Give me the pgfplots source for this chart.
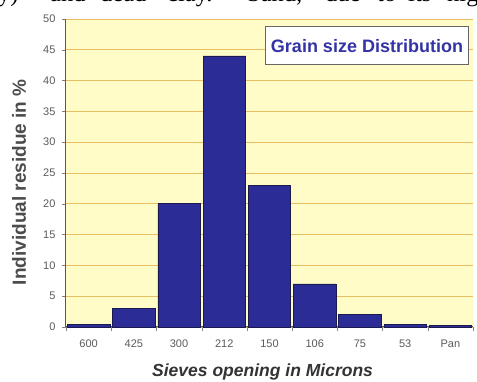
\documentclass[border=0pt]{standalone}
\usepackage{pgfplots}
\pgfplotsset{compat=1.18}
\usepackage{fontspec}
\setmainfont{Liberation Serif}
\newfontfamily\arialfont{Liberation Sans}

\definecolor{barblue}{HTML}{2C2C96}
\definecolor{baredge}{HTML}{1A1A50}
\definecolor{plotbg}{HTML}{FFFCC8}
\definecolor{gridtan}{HTML}{E8BE62}
\definecolor{ticktext}{HTML}{5A5A5A}
\definecolor{titleblue}{HTML}{3434A6}

% sieve analysis data: percentage retained on each sieve
\pgfplotstableread{
idx value
0 0.4
1 3
2 20
3 44
4 23
5 7
6 2
7 0.4
8 0.2
}\sievedata

\begin{document}
\begin{tikzpicture}[x=1pt,y=1pt]
\useasboundingbox (0,0) rectangle (477,382);
\clip (0,0) rectangle (477,382);

% running text of the surrounding page
\begin{scope}[every node/.style={anchor=base west,inner sep=0pt,font=\fontsize{24.5}{26}\selectfont}]
\node at (-2,380) {y)};
\node at (50,380) {and};
\node at (100,380) {dead};
\node at (167,380) {clay.};
\node at (247,380) {Sand,};
\node at (325,380) {due};
\node at (377,380) {to};
\node at (408,380) {its};
\node at (447,380) {hig};
\end{scope}

\begin{axis}[
  at={(66pt,55pt)}, anchor=south west,
  width=407pt, height=308pt, scale only axis,
  xmin=-0.5, xmax=8.5, ymin=0, ymax=50,
  axis background/.style={fill=plotbg},
  axis x line*=bottom, axis y line*=left,
  axis line style={draw=black!65, line width=1pt},
  xtick={0,...,8},
  xticklabels={600,425,300,212,150,106,75,53,Pan},
  major x tick style={draw=none},
  minor xtick={-0.5,0.5,...,8.5},
  minor x tick style={draw=black!50},
  minor tick length=4pt,
  ytick={0,5,...,50},
  major y tick style={draw=black!50},
  major tick length=4pt,
  tick align=outside,
  ymajorgrids,
  grid style={draw=gridtan, line width=0.7pt},
  /pgf/number format/assume math mode=true,
  ticklabel style={font=\arialfont\fontsize{11}{13}\selectfont, text=ticktext},
  xticklabel style={anchor=north, yshift=-5pt},
  yticklabel style={anchor=east, xshift=-3pt},
  xlabel={\textbf{\textit{Sieves opening in Microns}}},
  xlabel style={font=\arialfont\fontsize{17.5}{19}\selectfont, text=black!80,
    at={(axis description cs:0.483,-0.145)}, anchor=center},
  ylabel={\textbf{Individual residue in \%}},
  ylabel style={font=\arialfont\fontsize{19}{21}\selectfont, text=black!70,
    at={(axis description cs:-0.115,0.47)}, anchor=center},
  clip=false,
]
\addplot[ybar, bar width=42.5pt, fill=barblue, draw=baredge, line width=0.6pt]
  table[x=idx, y=value] {\sievedata};
\end{axis}

% chart title box
\node[draw=black!60, line width=1pt, fill=white, minimum width=203pt,
      minimum height=38pt, inner sep=0pt, text=titleblue,
      font=\arialfont\bfseries\fontsize{18}{20}\selectfont]
  at (367,336) {Grain size Distribution};
\end{tikzpicture}
\end{document}
